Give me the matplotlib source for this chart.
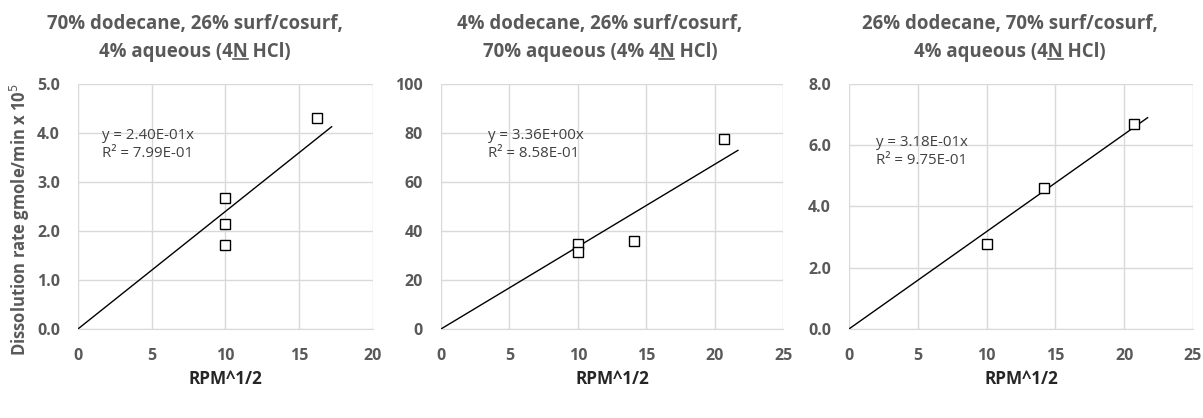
import matplotlib
matplotlib.use("Agg")
import matplotlib.pyplot as plt
from matplotlib.lines import Line2D

plt.rcParams['font.family'] = ['Open Sans', 'DejaVu Sans']

# data
titles_1 = ["70% dodecane, 26% surf/cosurf,",
            "4% dodecane, 26% surf/cosurf,",
            "26% dodecane, 70% surf/cosurf,"]
titles_2 = ["4% aqueous (4N HCl)",
            "70% aqueous (4% 4N HCl)",
            "4% aqueous (4N HCl)"]

x1 = [10, 10, 10, 16.2]
y1 = [2.67, 2.15, 1.72, 4.30]
x2 = [10, 10, 14.1, 20.7]
y2 = [34.5, 31.5, 36.0, 77.5]
x3 = [10, 14.2, 20.7]
y3 = [2.78, 4.62, 6.68]

slopes = [0.240, 3.36, 0.318]
eq_text = ["y = 2.40E-01x\nR² = 7.99E-01",
           "y = 3.36E+00x\nR² = 8.58E-01",
           "y = 3.18E-01x\nR² = 9.75E-01"]
trend_end = [17.2, 21.7, 21.7]

xlims = [20, 25, 25]
xticks = [[0, 5, 10, 15, 20], [0, 5, 10, 15, 20, 25], [0, 5, 10, 15, 20, 25]]
ylims = [5.0, 100, 8.0]
yticks = [[0, 1, 2, 3, 4, 5], [0, 20, 40, 60, 80, 100], [0, 2, 4, 6, 8]]
yfmt = ["{:.1f}", "{:.0f}", "{:.1f}"]

xs = [x1, x2, x3]
ys = [y1, y2, y3]

txt_col = "#595959"
grid_col = "#d9d9d9"

fig = plt.figure(figsize=(12.03, 4.18), dpi=100)

ax_pos = [[0.0648, 0.213, 0.2452, 0.586],
          [0.3666, 0.213, 0.2843, 0.586],
          [0.7057, 0.213, 0.2860, 0.586]]
title_x = [195 / 1203, 600 / 1203, 1010 / 1203]
eq_pos = [(0.081, 0.82), (0.137, 0.82), (0.078, 0.79)]

title_fs = 13.4
line2_texts = []
for i in range(3):
    ax = fig.add_axes(ax_pos[i])
    ax.set_xlim(0, xlims[i])
    ax.set_ylim(0, ylims[i])
    ax.set_xticks(xticks[i])
    ax.set_yticks(yticks[i])
    ax.set_yticklabels([yfmt[i].format(v) for v in yticks[i]])
    ax.tick_params(axis="y", length=0, labelsize=11.5, labelcolor=txt_col, pad=13)
    ax.tick_params(axis="x", length=0, labelsize=11.5, labelcolor=txt_col, pad=14)
    for lab in ax.get_xticklabels() + ax.get_yticklabels():
        lab.set_fontweight("bold")
    ax.grid(True, color=grid_col, linewidth=1)
    ax.set_axisbelow(True)
    for s in ["top", "right", "left"]:
        ax.spines[s].set_visible(False)
    ax.spines["bottom"].set_color(grid_col)

    # trendline through origin
    ax.plot([0, trend_end[i]], [0, slopes[i] * trend_end[i]], color="black", lw=1)
    ax.plot(xs[i], ys[i], linestyle="none", marker="s", markersize=7.5,
            markerfacecolor="white", markeredgecolor="black", markeredgewidth=1,
            clip_on=False)

    ax.text(eq_pos[i][0], eq_pos[i][1], eq_text[i], transform=ax.transAxes,
            fontsize=10.8, color="#404040", va="top", linespacing=1.25)

    ax.set_xlabel("RPM^1/2", fontsize=12.3, fontweight="bold", color="#262626", labelpad=4)

    fig.text(title_x[i], 0.943, titles_1[i], ha="center", va="center",
             fontsize=title_fs, fontweight="bold", color=txt_col)
    t2 = fig.text(title_x[i], 0.876, titles_2[i], ha="center", va="center",
                  fontsize=title_fs, fontweight="bold", color=txt_col)
    line2_texts.append(t2)

fig.text(20 / 1203, 1 - 220 / 418, "Dissolution rate gmole/min x 10$^{5}$",
         rotation=90, ha="center", va="center", fontsize=12, fontweight="bold",
         color=txt_col)

# underline the N in "4N"
fig.canvas.draw()
renderer = fig.canvas.get_renderer()
for t2 in line2_texts:
    s = t2.get_text()
    k = s.index("4N") + 1
    full = t2.get_window_extent(renderer)
    tmp = fig.text(0, 0, s[:k], fontsize=title_fs, fontweight="bold")
    w_pre = tmp.get_window_extent(renderer).width
    tmp.set_text(s[:k + 1])
    w_n = tmp.get_window_extent(renderer).width
    tmp.remove()
    x0 = (full.x0 + w_pre) / fig.bbox.width
    x1_ = (full.x0 + w_n) / fig.bbox.width
    yu = (full.y0 + 3) / fig.bbox.height
    fig.add_artist(Line2D([x0, x1_], [yu, yu], transform=fig.transFigure,
                          color=txt_col, lw=1.2))

fig.savefig("out.png", dpi=100)
